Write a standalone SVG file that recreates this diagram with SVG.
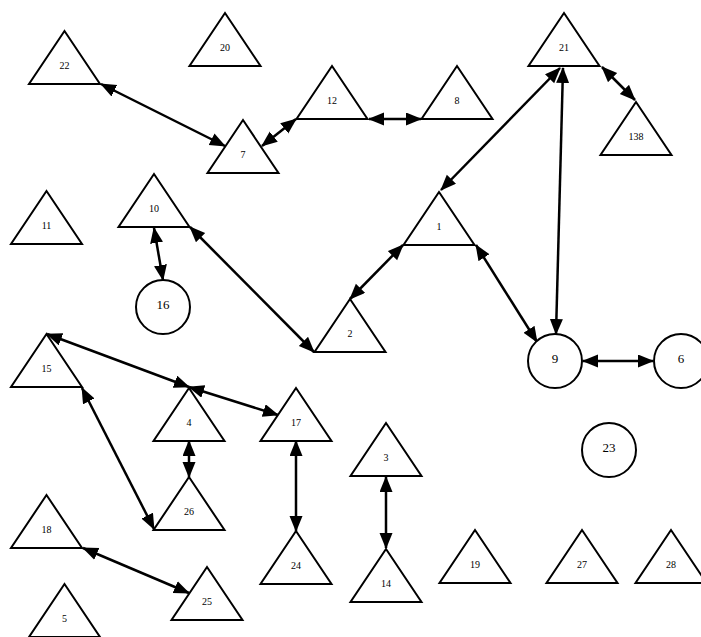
<svg xmlns="http://www.w3.org/2000/svg" width="701" height="637" viewBox="0 0 701 637">
<style>
.n path,.n circle{fill:#fff;stroke:#000;stroke-width:2}
.n text{font-family:"Liberation Serif","Times New Roman",serif;font-size:10px;text-anchor:middle;fill:#000}
.n text.c{font-size:13px}
.e line{stroke:#000;stroke-width:2.5;marker-start:url(#ah);marker-end:url(#ah)}
</style>
<defs>
<marker id="ah" markerUnits="userSpaceOnUse" markerWidth="18" markerHeight="14" refX="15" refY="6.5" orient="auto-start-reverse" viewBox="0 0 18 14">
<path d="M0,0 L16,6.5 L0,13 z" fill="#000"/>
</marker>
</defs>
<rect width="701" height="637" fill="#fff"/>
<g class="e">
<line x1="101" y1="84" x2="225" y2="146"/>
<line x1="262" y1="146" x2="296" y2="119"/>
<line x1="369" y1="119" x2="421" y2="119"/>
<line x1="560" y1="68" x2="441" y2="190"/>
<line x1="563" y1="68" x2="556" y2="334"/>
<line x1="602" y1="67" x2="635" y2="100"/>
<line x1="154" y1="228" x2="163" y2="280"/>
<line x1="190" y1="227" x2="314" y2="352"/>
<line x1="350" y1="299" x2="403" y2="245"/>
<line x1="476" y1="245" x2="537" y2="342"/>
<line x1="583" y1="361" x2="653" y2="361"/>
<line x1="47" y1="334" x2="189" y2="387"/>
<line x1="189" y1="387" x2="278" y2="415"/>
<line x1="82" y1="388" x2="154" y2="529"/>
<line x1="189" y1="441" x2="189" y2="477"/>
<line x1="296" y1="441" x2="296" y2="531"/>
<line x1="83" y1="548" x2="189" y2="593"/>
<line x1="386" y1="477" x2="386" y2="548"/>
</g>
<g id="n22" class="n"><path d="M64.5,31 L100,84 L29,84 z"/><text x="64.5" y="69">22</text></g>
<g id="n20" class="n"><path d="M225,13 L260.5,66 L189.5,66 z"/><text x="225" y="51">20</text></g>
<g id="n12" class="n"><path d="M332,66 L367.5,119 L296.5,119 z"/><text x="332" y="104">12</text></g>
<g id="n7" class="n"><path d="M243,120 L278.5,173 L207.5,173 z"/><text x="243" y="158">7</text></g>
<g id="n8" class="n"><path d="M457,66 L492.5,119 L421.5,119 z"/><text x="457" y="104">8</text></g>
<g id="n21" class="n"><path d="M564,13 L599.5,66 L528.5,66 z"/><text x="564" y="51">21</text></g>
<g id="n138" class="n"><path d="M636,102 L671.5,155 L600.5,155 z"/><text x="636" y="140">138</text></g>
<g id="n11" class="n"><path d="M46.5,191 L82,244 L11,244 z"/><text x="46.5" y="229">11</text></g>
<g id="n10" class="n"><path d="M154,174 L189.5,227 L118.5,227 z"/><text x="154" y="212">10</text></g>
<g id="n16" class="n"><circle cx="163" cy="307" r="27"/><text class="c" x="163" y="309">16</text></g>
<g id="n1" class="n"><path d="M439,192 L474.5,245 L403.5,245 z"/><text x="439" y="230">1</text></g>
<g id="n2" class="n"><path d="M350,299 L385.5,352 L314.5,352 z"/><text x="350" y="337">2</text></g>
<g id="n9" class="n"><circle cx="555" cy="361" r="27"/><text class="c" x="555" y="363">9</text></g>
<g id="n6" class="n"><circle cx="681" cy="361" r="27"/><text class="c" x="681" y="363">6</text></g>
<g id="n15" class="n"><path d="M46.5,334 L82,387 L11,387 z"/><text x="46.5" y="372">15</text></g>
<g id="n4" class="n"><path d="M189,388 L224.5,441 L153.5,441 z"/><text x="189" y="426">4</text></g>
<g id="n17" class="n"><path d="M296,388 L331.5,441 L260.5,441 z"/><text x="296" y="426">17</text></g>
<g id="n26" class="n"><path d="M189,477 L224.5,530 L153.5,530 z"/><text x="189" y="515">26</text></g>
<g id="n24" class="n"><path d="M296,531 L331.5,584 L260.5,584 z"/><text x="296" y="569">24</text></g>
<g id="n18" class="n"><path d="M46.5,495 L82,548 L11,548 z"/><text x="46.5" y="533">18</text></g>
<g id="n25" class="n"><path d="M207,567 L242.5,620 L171.5,620 z"/><text x="207" y="605">25</text></g>
<g id="n5" class="n"><path d="M64.5,584 L100,637 L29,637 z"/><text x="64.5" y="622">5</text></g>
<g id="n3" class="n"><path d="M386,423 L421.5,476 L350.5,476 z"/><text x="386" y="461">3</text></g>
<g id="n14" class="n"><path d="M386,549 L421.5,602 L350.5,602 z"/><text x="386" y="587">14</text></g>
<g id="n19" class="n"><path d="M475,530 L510.5,583 L439.5,583 z"/><text x="475" y="568">19</text></g>
<g id="n23" class="n"><circle cx="609" cy="450" r="27"/><text class="c" x="609" y="452">23</text></g>
<g id="n27" class="n"><path d="M582,530 L617.5,583 L546.5,583 z"/><text x="582" y="568">27</text></g>
<g id="n28" class="n"><path d="M671,530 L706.5,583 L635.5,583 z"/><text x="671" y="568">28</text></g>
</svg>
